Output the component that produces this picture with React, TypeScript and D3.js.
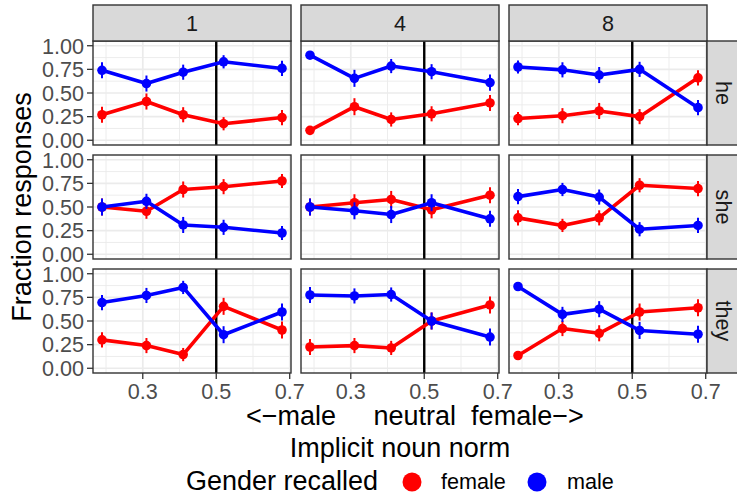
import React from "react";
import * as d3 from "d3";

// facet labels
const columns = ["1", "4", "8"];
const pronouns = ["he", "she", "they"];

// implicit noun norm (x) for the five noun groups
const normValues = [0.189, 0.31, 0.41, 0.52, 0.679];
const xTicks = [0.3, 0.5, 0.7];
const xMinor = [0.2, 0.4, 0.6];
const yTicks = [0, 0.25, 0.5, 0.75, 1];
const yMinor = [0.125, 0.375, 0.625, 0.875];

// fraction responses, one array per column (1, 4, 8)
const heFemale = [
  [0.27, 0.41, 0.27, 0.175, 0.24],
  [0.105, 0.355, 0.22, 0.28, 0.395],
  [0.23, 0.26, 0.31, 0.25, 0.66],
];
const heMale = [
  [0.74, 0.6, 0.72, 0.83, 0.76],
  [0.9, 0.655, 0.785, 0.725, 0.61],
  [0.775, 0.745, 0.69, 0.75, 0.345],
];
const sheFemale = [
  [0.5, 0.455, 0.685, 0.715, 0.775],
  [0.5, 0.545, 0.58, 0.47, 0.625],
  [0.385, 0.305, 0.385, 0.73, 0.695],
];
const sheMale = [
  [0.5, 0.56, 0.31, 0.285, 0.225],
  [0.5, 0.46, 0.42, 0.545, 0.375],
  [0.61, 0.685, 0.605, 0.265, 0.305],
];
const theyFemale = [
  [0.3, 0.24, 0.145, 0.655, 0.405],
  [0.225, 0.24, 0.215, 0.5, 0.67],
  [0.135, 0.42, 0.37, 0.595, 0.64],
];
const theyMale = [
  [0.695, 0.77, 0.855, 0.355, 0.595],
  [0.775, 0.765, 0.78, 0.5, 0.33],
  [0.865, 0.57, 0.625, 0.4, 0.36],
];

// half-width of the error bars (same for both genders in a panel)
const heErr = [
  [0.085, 0.085, 0.08, 0.07, 0.08],
  [0.04, 0.09, 0.075, 0.08, 0.085],
  [0.07, 0.08, 0.085, 0.08, 0.08],
];
const sheErr = [
  [0.09, 0.08, 0.085, 0.08, 0.075],
  [0.09, 0.09, 0.09, 0.09, 0.085],
  [0.08, 0.07, 0.08, 0.075, 0.08],
];
const theyErr = [
  [0.08, 0.08, 0.07, 0.09, 0.09],
  [0.085, 0.08, 0.075, 0.09, 0.09],
  [0.045, 0.08, 0.085, 0.09, 0.09],
];

const genders = ["female", "male"];
const genderColor: Record<string, string> = { female: "#FF0000", male: "#0000FF" };

const byPronoun: Record<string, { female: number[][]; male: number[][]; err: number[][] }> = {
  he: { female: heFemale, male: heMale, err: heErr },
  she: { female: sheFemale, male: sheMale, err: sheErr },
  they: { female: theyFemale, male: theyMale, err: theyErr },
};

const W = 737;
const H = 495;
const panelLeft = 93;
const panelRight = 707;
const panelTop = 41;
const panelBottom = 373;
const gap = 10;
const stripSize = 36;
const panelW = (panelRight - panelLeft - 2 * gap) / 3;
const panelH = (panelBottom - panelTop - 2 * gap) / 3;

const font = "Liberation Sans, Arial, Helvetica, sans-serif";
const border = "#333333";
const gridColor = "#EBEBEB";

export default function App() {
  const xExt = d3.extent(normValues) as [number, number];
  const xPad = (xExt[1] - xExt[0]) * 0.05;
  const x = d3.scaleLinear().domain([xExt[0] - xPad, xExt[1] + xPad]).range([0, panelW]);
  const y = d3.scaleLinear().domain([-0.05, 1.05]).range([panelH, 0]);
  const line = d3
    .line<number>()
    .x((_, i) => x(normValues[i]))
    .y((d) => y(d));

  const panels: React.ReactNode[] = [];
  pronouns.forEach((p, r) => {
    columns.forEach((c, ci) => {
      const px = panelLeft + ci * (panelW + gap);
      const py = panelTop + r * (panelH + gap);
      const data = byPronoun[p];
      panels.push(
        <g key={`${p}-${c}`} transform={`translate(${px},${py})`}>
          <rect width={panelW} height={panelH} fill="white" />
          {yMinor.map((t) => (
            <line key={`ym${t}`} x1={0} x2={panelW} y1={y(t)} y2={y(t)} stroke={gridColor} strokeWidth={0.9} />
          ))}
          {xMinor.map((t) => (
            <line key={`xm${t}`} y1={0} y2={panelH} x1={x(t)} x2={x(t)} stroke={gridColor} strokeWidth={0.9} />
          ))}
          {yTicks.map((t) => (
            <line key={`yM${t}`} x1={0} x2={panelW} y1={y(t)} y2={y(t)} stroke={gridColor} strokeWidth={1.7} />
          ))}
          {xTicks.map((t) => (
            <line key={`xM${t}`} y1={0} y2={panelH} x1={x(t)} x2={x(t)} stroke={gridColor} strokeWidth={1.7} />
          ))}
          <line x1={x(0.5)} x2={x(0.5)} y1={0} y2={panelH} stroke="black" strokeWidth={2.4} />
          {genders.map((g) => {
            const vals = (data as any)[g][ci] as number[];
            const errs = data.err[ci];
            const col = genderColor[g];
            return (
              <g key={g}>
                <path d={line(vals) || ""} fill="none" stroke={col} strokeWidth={3.6} strokeLinejoin="round" />
                {vals.map((v, i) => (
                  <line
                    key={`e${i}`}
                    x1={x(normValues[i])}
                    x2={x(normValues[i])}
                    y1={y(v - errs[i])}
                    y2={y(v + errs[i])}
                    stroke={col}
                    strokeWidth={2}
                  />
                ))}
                {vals.map((v, i) => (
                  <circle key={`p${i}`} cx={x(normValues[i])} cy={y(v)} r={4.8} fill={col} />
                ))}
              </g>
            );
          })}
          <rect width={panelW} height={panelH} fill="none" stroke={border} strokeWidth={1.4} />
          {ci === 0 &&
            yTicks.map((t) => (
              <g key={`yt${t}`}>
                <line x1={-6} x2={0} y1={y(t)} y2={y(t)} stroke={border} strokeWidth={1.3} />
                <text
                  x={-9}
                  y={y(t)}
                  dy="0.36em"
                  textAnchor="end"
                  fontSize={21.6}
                  fill="#4D4D4D"
                  fontFamily={font}
                >
                  {d3.format(".2f")(t)}
                </text>
              </g>
            ))}
          {r === 2 &&
            xTicks.map((t) => (
              <g key={`xt${t}`}>
                <line x1={x(t)} x2={x(t)} y1={panelH} y2={panelH + 6} stroke={border} strokeWidth={1.3} />
                <text
                  x={x(t)}
                  y={panelH + 25.5}
                  textAnchor="middle"
                  fontSize={21.6}
                  fill="#4D4D4D"
                  fontFamily={font}
                >
                  {t}
                </text>
              </g>
            ))}
          {r === 0 && (
            <g transform={`translate(0,${-stripSize})`}>
              <rect width={panelW} height={stripSize} fill="#D9D9D9" stroke={border} strokeWidth={1.4} />
              <text
                x={panelW / 2}
                y={stripSize / 2}
                dy="0.36em"
                textAnchor="middle"
                fontSize={21.6}
                fill="#1A1A1A"
                fontFamily={font}
              >
                {c}
              </text>
            </g>
          )}
          {ci === 2 && (
            <g transform={`translate(${panelW},0)`}>
              <rect width={stripSize} height={panelH} fill="#D9D9D9" stroke={border} strokeWidth={1.4} />
              <text
                transform={`translate(15,${panelH / 2}) rotate(90)`}
                dy="0.3em"
                textAnchor="middle"
                fontSize={21.6}
                fill="#1A1A1A"
                fontFamily={font}
              >
                {p}
              </text>
            </g>
          )}
        </g>
      );
    });
  });

  const legendY = 482;

  return (
    <svg
      width={W}
      height={H}
      style={{ position: "absolute", left: 0, top: 0, background: "white" }}
      fontFamily={font}
    >
      <rect width={W} height={H} fill="white" />
      {panels}
      <text
        transform={`translate(21,${(panelTop + panelBottom) / 2}) rotate(-90)`}
        dy="0.36em"
        textAnchor="middle"
        fontSize={27}
        fill="black"
      >
        Fraction responses
      </text>
      <text x={246} y={425} fontSize={27} fill="black" style={{ whiteSpace: "pre" }}>
        {"<\u2212male     neutral  female\u2212>"}
      </text>
      <text x={(panelLeft + panelRight) / 2} y={457} textAnchor="middle" fontSize={27} fill="black">
        Implicit noun norm
      </text>
      <text x={186} y={490} fontSize={27} fill="black">
        Gender recalled
      </text>
      <circle cx={412} cy={legendY} r={9.5} fill={genderColor.female} />
      <text x={441} y={489} fontSize={21.6} fill="black">
        female
      </text>
      <circle cx={537} cy={legendY} r={9.5} fill={genderColor.male} />
      <text x={567} y={489} fontSize={21.6} fill="black">
        male
      </text>
    </svg>
  );
}
